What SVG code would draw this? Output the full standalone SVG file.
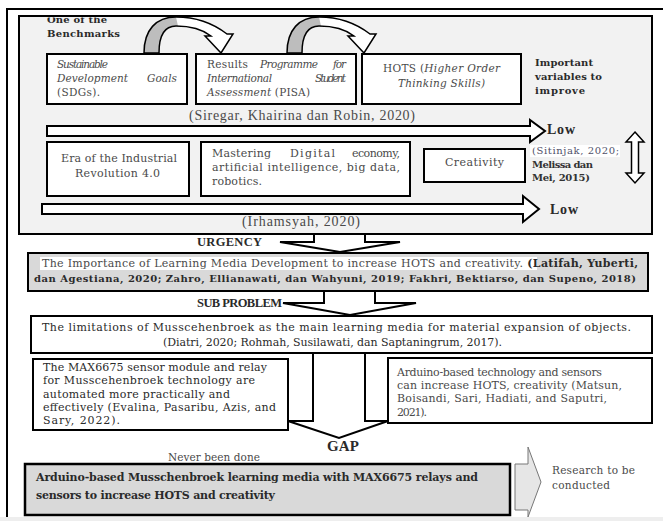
<svg xmlns="http://www.w3.org/2000/svg" width="663" height="521" viewBox="0 0 663 521">
<style>
.t{font-family:"Liberation Serif","Times New Roman",serif;font-size:13px;fill:#2a2a2a}
.p{font-family:"DejaVu Serif","Liberation Serif",serif;font-size:11px;fill:#2a2a2a}
.s{font-size:12.5px}
.m{font-size:14px}
.sm{font-size:10.5px}
.xs{font-size:10px}
.b{font-weight:bold}
.i{font-style:italic}
.g{fill:#4a4a4a}
.box{fill:#fff;stroke:#000;stroke-width:2}
.gbox{fill:#d9d9d9;stroke:#000;stroke-width:2}
.arr{fill:#fff;stroke:#000;stroke-width:2;stroke-linejoin:miter}
.thin{fill:#fff;stroke:#000;stroke-width:1.5}
</style>
<defs>
<path id="curve" d="M0,53 C0,30 12,17 32,17 C52,17 70,24 83,34 L89,34 L77,53 L61,36 L67,36 C58,29 46,26 32,26 C20,26 15,36 15,53 Z"/>
<path id="curveBack" d="M0,53 C0,30 12,17 32,17 L34,26 C20,26 15,36 15,53 Z"/>
<g id="curveArrow">
<use href="#curve" fill="#fff"/>
<use href="#curveBack" fill="#bdbdbd"/>
<use href="#curve" fill="none" stroke="#000" stroke-width="1.5"/>
</g>
<clipPath id="panelClip"><rect x="19" y="17.5" width="633" height="216"/></clipPath>
</defs>

<rect x="0" y="0" width="663" height="521" fill="#fff"/>
<rect x="0" y="517" width="663" height="4" fill="#eeeeee"/>
<path d="M7,517 V9 H665" fill="none" stroke="#000" stroke-width="2"/>

<g id="panel">
<rect x="19" y="16" width="633" height="218" fill="#f2f2f2" stroke="#000" stroke-width="2"/>
<g clip-path="url(#panelClip)">
<text class="p xs b" x="47" y="23" textLength="60">One of the</text>
</g>
<text class="p xs b" x="47" y="37" textLength="73">Benchmarks</text>
</g>

<g id="connectors">
<use href="#curveArrow" transform="translate(144,0)"/>
<use href="#curveArrow" transform="translate(287,0)"/>
<polygon class="arr" points="47,126 530,126 530,120 545,131 530,142 530,136 47,136"/>
<polygon class="arr" points="42,204 523,204 523,196 539,209 523,222 523,214 42,214"/>
<polygon class="thin" points="635,132 644,142 638.5,142 638.5,173 644,173 635,183 626,173 631.5,173 631.5,142 626,142"/>
<polygon class="arr" points="314,234 314,242 280,242 340,252 400,242 365,242 365,234"/>
<polygon class="arr" points="324,291 324,303 283,303 350,315 416,303 375,303 375,291"/>
<polygon class="arr" points="313,353 313,421 288,421 339,438 388,421 365,421 365,353"/>
<polygon points="515,464 528,464 528,447 541,482 528,517 528,510 515,510" fill="#e6e6e6" stroke="#777" stroke-width="1"/>
</g>

<g id="sdgs">
<rect class="box" x="47" y="54" width="140" height="50"/>
<text class="p sm i g" x="57" y="68" textLength="51">Sustainable</text>
<text class="p sm i g" x="57" y="82" textLength="71">Development</text>
<text class="p sm i g" x="147" y="82" textLength="30">Goals</text>
<text class="p sm g" x="57" y="96" textLength="43">(SDGs).</text>
</g>

<g id="pisa">
<rect class="box" x="196" y="54" width="160" height="50"/>
<text class="p sm g" x="207" y="68" textLength="41">Results</text>
<text class="p sm i g" x="260" y="68" textLength="58">Programme</text>
<text class="p sm i g" x="333" y="68" textLength="13">for</text>
<text class="p sm i g" x="207" y="82" textLength="65">International</text>
<text class="p sm i g" x="315" y="82" textLength="31">Student</text>
<text class="p sm g" x="207" y="96" textLength="103"><tspan class="i">Assessment</tspan> (PISA)</text>
</g>

<g id="hots">
<rect class="box" x="362" y="54" width="159" height="50"/>
<text class="p sm g" x="383" y="72" textLength="117">HOTS (<tspan class="i">Higher Order</tspan></text>
<text class="p sm i g" x="398" y="87" textLength="87">Thinking Skills)</text>
</g>

<g id="important">
<text class="p xs b" x="535" y="66" textLength="58">Important</text>
<text class="p xs b" x="535" y="80" textLength="67">variables to</text>
<text class="p xs b" x="535" y="94" textLength="50">improve</text>
</g>

<g id="siregar">
<text class="t m g" x="189" y="120" textLength="226">(Siregar, Khairina dan Robin, 2020)</text>
</g>

<g id="low1"><text class="t m b" x="547" y="134" textLength="28">Low</text></g>

<g id="era">
<rect class="box" x="47" y="142" width="142" height="54"/>
<text class="p g" x="61" y="162" textLength="116">Era of the Industrial</text>
<text class="p g" x="75" y="177" textLength="85">Revolution 4.0</text>
</g>

<g id="mastering">
<rect class="box" x="201" y="142" width="209" height="54"/>
<text class="p g" x="212" y="157" textLength="59">Mastering</text>
<text class="p g" x="290" y="157" textLength="45">Digital</text>
<text class="p g" x="352" y="157" textLength="48">economy,</text>
<text class="p g" x="212" y="171" textLength="188">artificial intelligence, big data,</text>
<text class="p g" x="212" y="185" textLength="50">robotics.</text>
</g>

<g id="creativity">
<rect class="box" x="424" y="149" width="101" height="33"/>
<text class="p g" x="445" y="166" textLength="59">Creativity</text>
</g>

<g id="sitinjak">
<rect x="530" y="145" width="90" height="12" fill="#fff"/>
<text class="p xs" x="532" y="154" textLength="87" style="fill:#50506a">(Sitinjak, 2020;</text>
<text class="p xs b" x="532" y="168" textLength="61" style="fill:#333">Melissa dan</text>
<text class="p xs b" x="532" y="181" textLength="58" style="fill:#333">Mei, 2015)</text>
</g>

<g id="low2"><text class="t m b" x="550" y="214" textLength="28">Low</text></g>

<g id="irhamsyah">
<text class="t m g" x="242" y="226" textLength="118">(Irhamsyah, 2020)</text>
</g>

<g id="urgency-label"><text class="t s b" x="197" y="246" textLength="65">URGENCY</text></g>

<g id="importance">
<rect class="gbox" x="28" y="253" width="620" height="38"/>
<rect x="40" y="257" width="497" height="13" fill="#fff"/>
<text class="p" x="42" y="267" textLength="596"><tspan class="g">The Importance of Learning Media Development to increase HOTS and creativity.</tspan><tspan class="b"> (Latifah, Yuberti,</tspan></text>
<text class="p b" x="34" y="282" textLength="602" style="font-size:10px">dan Agestiana, 2020; Zahro, Ellianawati, dan Wahyuni, 2019; Fakhri, Bektiarso, dan Supeno, 2018)</text>
</g>

<g id="subproblem-label"><text class="t s b" x="197" y="307" textLength="85">SUB PROBLEM</text></g>

<g id="limitations">
<rect class="box" x="31" y="316" width="621" height="37"/>
<text class="p" x="42" y="331" textLength="589">The limitations of Musscehenbroek as the main learning media for material expansion of objects.</text>
<text class="p" x="163" y="346" textLength="339">(Diatri, 2020; Rohmah, Susilawati, dan Saptaningrum, 2017).</text>
</g>

<g id="max6675">
<rect class="box" x="33" y="359" width="255" height="71"/>
<text class="p" x="43" y="371" textLength="224">The MAX6675 sensor module and relay</text>
<text class="p" x="43" y="384" textLength="212">for Musscehenbroek technology are</text>
<text class="p" x="43" y="398" textLength="187">automated more practically and</text>
<text class="p" x="43" y="411" textLength="233">effectively (Evalina, Pasaribu, Azis, and</text>
<text class="p" x="43" y="424" textLength="77">Sary, 2022).</text>
</g>

<g id="arduino">
<rect class="box" x="388" y="358" width="264" height="65"/>
<text class="p g" x="397" y="376" textLength="205">Arduino-based technology and sensors</text>
<text class="p g" x="397" y="389" textLength="225">can increase HOTS, creativity (Matsun,</text>
<text class="p g" x="397" y="402" textLength="210">Boisandi, Sari, Hadiati, and Saputri,</text>
<text class="p g" x="397" y="416" textLength="30">2021).</text>
</g>

<g id="gap-label"><text class="t b" x="327" y="451" style="font-size:15px" textLength="32">GAP</text></g>

<g id="never"><text class="p sm g" x="168" y="461" textLength="92">Never been done</text></g>

<g id="research-media">
<rect class="gbox" x="25" y="464" width="485" height="51" style="stroke-width:2.5"/>
<text class="p b" x="36" y="481" textLength="442">Arduino-based Musschenbroek learning media with MAX6675 relays and</text>
<text class="p b" x="36" y="499" textLength="239">sensors to increase HOTS and creativity</text>
</g>

<g id="research">
<text class="p sm g" x="552" y="474" textLength="83">Research to be</text>
<text class="p sm g" x="552" y="489" textLength="58">conducted</text>
</g>
</svg>
